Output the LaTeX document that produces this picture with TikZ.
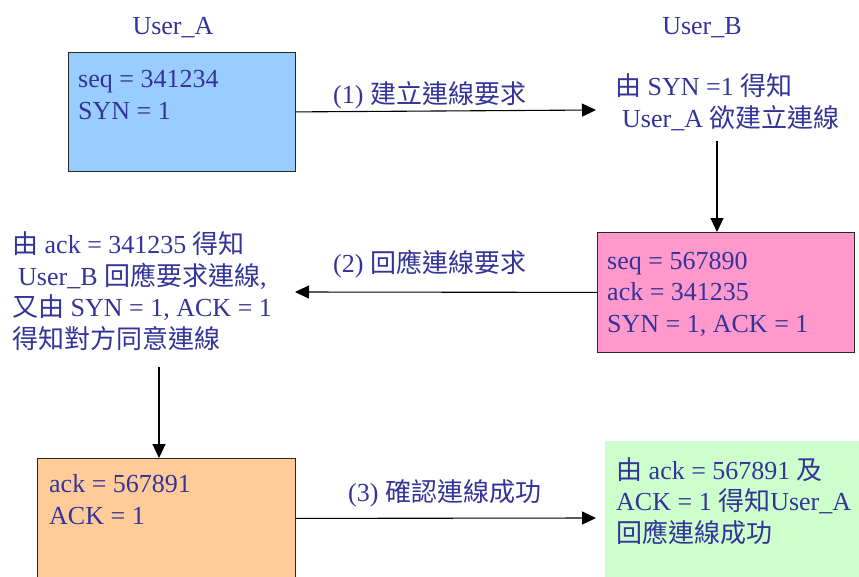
\documentclass[tikz,border=0pt]{standalone}
\usepackage{fontspec}
\setmainfont{Liberation Serif}
\newfontfamily\cjkfont{Noto Sans CJK TC}
\newcommand\zh[1]{{\cjkfont #1}}
\usetikzlibrary{arrows.meta}
\definecolor{ink}{RGB}{51,51,153}
\definecolor{boxA}{RGB}{153,204,255}
\definecolor{boxB}{RGB}{255,153,204}
\definecolor{boxC}{RGB}{255,204,153}
\definecolor{boxD}{RGB}{204,255,204}
\definecolor{edge}{RGB}{40,40,40}
\begin{document}
\begin{tikzpicture}[x=1pt,y=-1pt,
  txt/.style={inner sep=0pt, anchor=base west, align=left, text=ink,
    font=\fontsize{26}{31.5}\selectfont},
  host/.style={txt, anchor=base},
  panel/.style={draw=edge, line width=0.8pt, inner sep=0pt, anchor=north west},
  msg/.style={line width=1.1pt, -{Triangle[length=14pt,width=13pt]}},
]
\useasboundingbox (0,0) rectangle (859,576);
\clip (0,0) rectangle (859,576);

% host headings
\node[host] (ua) at (173,34) {User\_A};
\node[host] (ub) at (702,34) {User\_B};

% state boxes
\node[panel, fill=boxA, minimum width=227pt, minimum height=119pt] (pa) at (68,52) {};
\node[panel, fill=boxB, minimum width=257pt, minimum height=120pt] (pb) at (597,232) {};
\node[panel, fill=boxC, minimum width=258pt, minimum height=120pt] (pc) at (37,458) {};
\node[panel, draw=none, fill=boxD, minimum width=260pt, minimum height=140pt] (pd) at (605,441) {};

% box contents (anchored at the baseline of the last line)
\node[txt] (ta) at (78,119) {seq = 341234\\SYN = 1};
\node[txt] (tb) at (607,332) {seq = 567890\\ack = 341235\\SYN = 1, ACK = 1};
\node[txt] (tc) at (49,524) {ack = 567891\\ACK = 1};
\node[txt] (td) at (616,542) {\zh{由} ack = 567891 \zh{及}\\ACK = 1 \zh{得知}User\_A\\\zh{回應連線成功}};

% notes on the receiving side
\node[txt] (nb) at (615,127) {\zh{由} SYN =1 \zh{得知}\\\hspace*{7pt}User\_A \zh{欲建立連線}};
\node[txt] (na) at (12,348) {\zh{由} ack = 341235 \zh{得知}\\\hspace*{6pt}User\_B \zh{回應要求連線},\\\zh{又由} SYN = 1, ACK = 1\\\zh{得知對方同意連線}};

% message labels
\node[txt] (l1) at (333,103) {(1) \zh{建立連線要求}};
\node[txt] (l2) at (333,272) {(2) \zh{回應連線要求}};
\node[txt] (l3) at (348,501) {(3) \zh{確認連線成功}};

% connector end points
\coordinate (e1) at (596,110);
\coordinate (e2) at (295,292);
\coordinate (e3) at (596,518);
\coordinate (sb) at (717,141);
\coordinate (sa) at (159,367);

% messages
\draw[msg] (pa.east) -- (e1);
\draw[msg] (pb.west) -- (e2);
\draw[msg] (pc.east) -- (e3);
\draw[msg] (sb) -- (sb |- pb.north);
\draw[msg] (sa) -- (sa |- pc.north);
\end{tikzpicture}
\end{document}
